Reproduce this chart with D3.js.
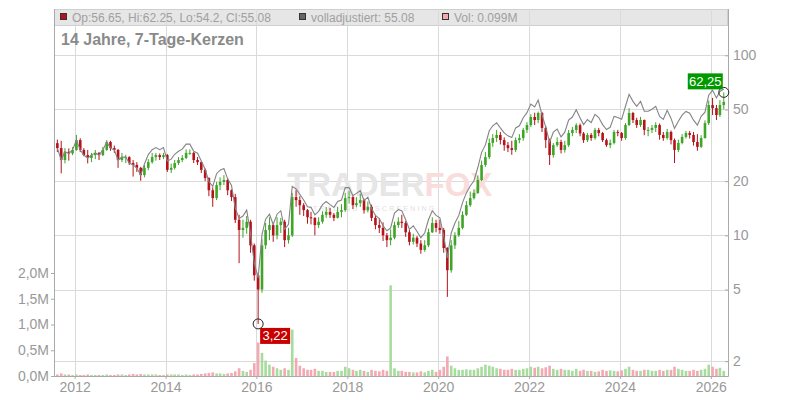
<!DOCTYPE html>
<html>
<head>
<meta charset="utf-8">
<script src="https://cdn.jsdelivr.net/npm/d3@7"></script>
<style>
  body { margin: 0; background: #fff; }
  svg { display: block; font-family: "Liberation Sans", Arial, sans-serif; }
</style>
</head>
<body>
<script>
// monthly candles, Aug 2011 .. Apr 2026 (open = previous close)
const firstOpen = 32.5;
const closes = [
  30.5, 26.2, 29.1, 28.5, 29.8,
  33.8, 29.8, 27.9, 26.9, 27.9, 28.7, 27.9, 29.8, 33.0, 30.5, 29.8, 26.2,
  27.2, 27.2, 25.2, 24.6, 23.7, 21.6, 23.7, 25.5, 27.2, 27.9, 27.2, 27.9,
  23.1, 23.7, 25.2, 26.2, 26.9, 28.7, 28.7, 26.2, 25.5, 23.1, 20.8, 17.8,
  16.1, 19.0, 19.8, 20.3, 17.8, 16.3, 12.2, 10.7, 11.0, 11.9, 8.8, 6.0,
  5.0, 8.8, 10.7, 11.4, 10.0, 11.4, 11.9, 9.4, 10.0, 16.3, 15.7, 14.7,
  13.8, 12.6, 12.5, 11.4, 11.9, 13.0, 13.5, 13.0, 12.5, 13.5, 13.8, 16.1,
  16.3, 14.7, 15.1, 15.7, 13.8, 14.4, 12.5, 11.4, 11.0, 10.0, 9.4, 9.7,
  11.4, 11.9, 11.7, 10.4, 9.2, 9.7, 9.0, 8.3, 8.8, 10.4, 11.7, 11.0,
  10.7, 8.5, 6.4, 8.8, 10.0, 11.0, 13.0, 14.7, 16.1, 17.2, 20.3, 24.6,
  27.2, 32.6, 34.7, 36.1, 33.8, 31.7, 30.5, 29.8, 33.8, 34.7, 38.5, 41.0,
  45.4, 43.7, 47.8, 39.5, 33.8, 27.9, 31.7, 33.0, 29.8, 31.7, 37.0, 38.5,
  40.9, 36.8, 33.8, 36.1, 34.7, 38.5, 37.0, 33.8, 31.7, 32.6, 37.5, 37.0,
  34.7, 41.0, 47.8, 43.7, 41.0, 43.7, 38.5, 38.5, 39.5, 41.0, 36.1, 34.7,
  37.5, 33.8, 29.8, 32.6, 35.2, 37.0, 36.1, 33.0, 31.0, 34.7, 42.0, 52.9,
  50.9, 46.6, 52.9, 55.08
];
const highs = [
  34.0, 33.5, 30.5, 30.4, 30.9,
  36.1, 34.6, 30.5, 29.8, 28.7, 29.8, 29.0, 31.0, 33.8, 33.5, 31.5, 30.2,
  28.7, 28.0, 27.5, 26.2, 25.5, 24.0, 24.6, 26.5, 28.7, 28.7, 28.5, 28.7,
  28.3, 25.0, 26.2, 27.2, 27.9, 30.0, 30.0, 29.0, 27.2, 25.8, 23.5, 21.0,
  18.5, 19.8, 21.0, 21.6, 20.8, 18.0, 17.0, 13.0, 12.2, 12.8, 12.2, 9.0,
  6.2, 9.5, 11.7, 12.6, 11.6, 12.6, 12.5, 12.2, 11.0, 17.2, 17.8, 16.5,
  15.1, 14.0, 13.5, 12.6, 12.6, 13.6, 14.4, 14.2, 13.3, 14.4, 14.9, 17.2,
  17.6, 16.5, 16.3, 17.0, 16.0, 15.4, 14.8, 13.0, 12.4, 11.8, 10.3, 10.8,
  11.9, 12.6, 13.0, 12.0, 10.7, 10.2, 9.9, 9.4, 9.4, 10.9, 12.6, 12.2,
  12.2, 11.0, 8.6, 9.4, 10.4, 12.0, 13.6, 15.5, 17.5, 18.0, 21.5, 26.0,
  29.0, 34.5, 36.5, 38.5, 37.5, 35.0, 33.0, 33.5, 35.0, 36.5, 39.5, 42.5,
  47.0, 48.0, 48.7, 48.5, 40.5, 34.5, 32.5, 35.0, 34.0, 33.5, 38.5, 40.0,
  42.0, 41.8, 37.5, 37.0, 37.0, 39.5, 39.5, 37.5, 34.5, 34.0, 38.5, 38.5,
  37.5, 42.0, 50.8, 48.5, 45.0, 45.5, 44.0, 40.0, 41.0, 42.5, 41.8, 37.5,
  39.0, 38.2, 34.5, 34.0, 36.5, 38.0, 38.0, 37.5, 36.5, 36.0, 43.5, 56.0,
  58.0, 53.0, 56.4, 62.25
];
const lows = [
  29.0, 22.1, 25.1, 26.0, 27.9,
  29.5, 29.0, 27.5, 25.1, 25.5, 26.5, 26.2, 27.5, 29.5, 29.5, 28.7, 23.7,
  25.5, 25.2, 24.6, 21.2, 22.5, 20.1, 21.0, 23.0, 25.0, 26.0, 26.2, 26.5,
  22.5, 22.2, 23.2, 24.6, 25.5, 26.5, 28.0, 25.2, 24.6, 22.2, 20.0, 16.5,
  14.4, 15.7, 17.8, 19.0, 16.7, 15.5, 11.7, 7.0, 9.7, 10.2, 8.0, 5.6,
  3.22, 4.8, 8.4, 9.4, 9.2, 9.5, 10.3, 8.6, 9.0, 9.8, 14.4, 13.0,
  12.8, 11.6, 11.5, 10.0, 11.0, 11.6, 12.5, 12.5, 12.0, 12.4, 12.6, 13.5,
  15.0, 14.0, 14.3, 14.4, 13.2, 13.4, 12.0, 10.8, 10.3, 9.3, 8.6, 8.8,
  9.5, 11.0, 11.0, 9.8, 8.8, 8.9, 8.6, 7.9, 8.1, 8.6, 10.3, 10.4,
  10.2, 8.0, 4.55, 6.2, 8.4, 9.8, 10.8, 12.8, 14.4, 15.8, 17.0, 20.0,
  24.0, 26.5, 31.0, 33.0, 32.0, 29.5, 29.0, 28.0, 29.0, 32.5, 33.5, 37.0,
  40.0, 41.0, 42.0, 37.5, 30.5, 24.6, 27.0, 31.0, 28.5, 28.8, 31.0, 35.5,
  37.0, 35.5, 32.6, 33.0, 33.5, 34.0, 35.5, 33.0, 31.0, 30.5, 32.0, 35.5,
  33.5, 34.0, 40.5, 42.0, 39.5, 40.0, 36.0, 35.5, 37.0, 37.5, 34.0, 33.5,
  34.0, 32.0, 25.2, 29.0, 32.0, 34.5, 34.5, 31.5, 29.5, 30.5, 34.5, 41.0,
  46.6, 43.7, 45.4, 50.0
];
// "volladjustiert" grey line
const adjusted = [
  30.5, 26.2, 29.1, 28.5, 29.8,
  33.8, 29.8, 27.9, 26.9, 27.9, 28.7, 27.9, 29.8, 33.0, 30.5, 29.8, 26.2,
  27.2, 27.2, 25.2, 24.6, 23.7, 21.6, 24.9, 28.1, 29.9, 30.7, 29.9, 30.7,
  25.9, 26.5, 28.2, 29.3, 30.1, 32.1, 32.1, 29.3, 28.6, 25.9, 23.3, 19.9,
  18.7, 22.0, 23.0, 23.5, 20.6, 18.9, 14.2, 12.4, 12.8, 13.8, 10.2, 7.0,
  5.8, 10.1, 12.3, 13.1, 11.5, 13.1, 13.7, 10.8, 11.5, 18.7, 18.1, 16.9,
  15.7, 14.4, 14.3, 13.0, 13.6, 14.8, 15.4, 14.8, 14.3, 15.4, 15.7, 18.4,
  18.4, 16.6, 17.1, 17.7, 15.6, 16.3, 14.1, 12.9, 12.4, 11.3, 10.6, 11.0,
  13.3, 13.9, 13.7, 12.2, 10.8, 11.3, 10.5, 9.7, 10.3, 12.2, 13.7, 12.9,
  12.5, 9.9, 7.5, 10.3, 11.7, 12.9, 15.2, 17.2, 18.8, 20.1, 23.8, 28.8,
  31.8, 38.1, 40.6, 42.2, 39.5, 37.1, 35.7, 34.9, 39.5, 40.6, 45.0, 48.0,
  53.6, 51.6, 56.4, 46.6, 39.9, 32.9, 37.4, 38.9, 35.2, 37.4, 43.7, 45.4,
  49.9, 44.9, 41.2, 44.0, 42.3, 47.0, 45.1, 41.2, 38.7, 39.8, 45.8, 45.1,
  44.1, 52.1, 60.7, 55.5, 52.1, 55.5, 48.9, 48.9, 50.2, 52.1, 45.8, 44.1,
  49.5, 44.6, 39.3, 43.0, 46.5, 48.8, 47.7, 43.6, 40.9, 45.8, 48.3, 60.0,
  64.0, 58.0, 63.0, 65.0
];
// volume in millions
const volumes = [
  0.03, 0.05, 0.03, 0.03, 0.02,
  0.03, 0.02, 0.02, 0.03, 0.02, 0.02, 0.02, 0.02, 0.03, 0.02, 0.02, 0.03,
  0.03, 0.02, 0.03, 0.04, 0.03, 0.04, 0.03, 0.03, 0.03, 0.03, 0.02, 0.02,
  0.03, 0.03, 0.03, 0.03, 0.02, 0.03, 0.02, 0.03, 0.03, 0.04, 0.05, 0.06,
  0.07, 0.05, 0.05, 0.04, 0.05, 0.06, 0.09, 0.15, 0.10, 0.08, 0.12, 0.25,
  0.65, 0.45, 0.30, 0.22, 0.18, 0.15, 0.12, 0.15, 0.12, 0.90, 0.35, 0.20,
  0.15, 0.12, 0.12, 0.14, 0.10, 0.10, 0.08, 0.08, 0.08, 0.10, 0.10, 0.18,
  0.15, 0.12, 0.10, 0.12, 0.10, 0.08, 0.12, 0.10, 0.09, 0.12, 0.10, 1.76,
  0.15, 0.10, 0.10, 0.08, 0.08, 0.07, 0.07, 0.09, 0.07, 0.10, 0.12, 0.08,
  0.12, 0.18, 0.38, 0.20, 0.15, 0.12, 0.12, 0.13, 0.12, 0.12, 0.15, 0.18,
  0.22, 0.20, 0.18, 0.15, 0.14, 0.12, 0.12, 0.14, 0.12, 0.12, 0.14, 0.15,
  0.18, 0.16, 0.18, 0.15, 0.17, 0.20, 0.14, 0.12, 0.14, 0.12, 0.12, 0.10,
  0.14, 0.10, 0.12, 0.10, 0.10, 0.08, 0.09, 0.12, 0.10, 0.11, 0.10, 0.09,
  0.11, 0.14, 0.18, 0.12, 0.10, 0.10, 0.12, 0.12, 0.10, 0.10, 0.12, 0.10,
  0.12, 0.12, 0.18, 0.14, 0.12, 0.10, 0.10, 0.12, 0.10, 0.12, 0.14, 0.22,
  0.18, 0.14, 0.16, 0.099
];
const priceTicks = [2, 5, 10, 20, 50, 100];
const volumeTicks = [0, 0.5, 1, 1.5, 2];
const yearTicks = [2012, 2014, 2016, 2018, 2020, 2022, 2024, 2026];
const legendItems = ["Op:56.65, Hi:62.25, Lo:54.2, Cl:55.08", "volladjustiert: 55.08", "Vol: 0.099M"];
const titleText = "14 Jahre, 7-Tage-Kerzen";

let width = 800, height = 400;
let plot = {left: 54, right: 728, top: 9, bottom: 376};
let red = "#b5121b", green = "#3ea528";

let months = d3.timeMonth.range(new Date(2011, 7, 1), new Date(2026, 4, 1));
let data = months.map((m, i) => ({
  date: new Date(m.getFullYear(), m.getMonth(), 15),
  open: i ? closes[i - 1] : firstOpen,
  high: highs[i], low: lows[i], close: closes[i],
  adj: adjusted[i], vol: volumes[i]
}));

let svg = d3.select("body").append("svg")
  .attr("width", width)
  .attr("height", height);

let x = d3.scaleTime()
  .domain([new Date(2011, 6, 19), new Date(2026, 4, 19)])
  .range([plot.left, plot.right]);
let y = d3.scaleLog()
  .domain([1.654, 180.8])
  .range([plot.bottom, plot.top]);
let yVol = d3.scaleLinear()
  .domain([0, 2])
  .range([plot.bottom, 273]);

// legend bar
svg.append("rect")
  .attr("x", plot.left + 0.5).attr("y", plot.top + 0.5)
  .attr("width", plot.right - plot.left - 1).attr("height", 16)
  .attr("fill", "#e6e6e6").attr("stroke", "#cfcfcf");

// grid
svg.append("g").selectAll("line")
  .data(yearTicks)
  .enter().append("line")
  .attr("x1", d => Math.round(x(new Date(d, 0, 1))) + 0.5)
  .attr("x2", d => Math.round(x(new Date(d, 0, 1))) + 0.5)
  .attr("y1", plot.top).attr("y2", plot.bottom)
  .attr("stroke", "#dadada");
svg.append("g").selectAll("line")
  .data(priceTicks)
  .enter().append("line")
  .attr("x1", plot.left).attr("x2", plot.right)
  .attr("y1", d => Math.round(y(d)) + 0.5)
  .attr("y2", d => Math.round(y(d)) + 0.5)
  .attr("stroke", "#dadada");

// watermark
let wm = svg.append("text")
  .attr("x", 287).attr("y", 196)
  .style("font-size", "33px").style("font-weight", "bold");
wm.append("tspan").attr("fill", "#e6e6e6").text("TRADER");
wm.append("tspan").attr("fill", "#f9dcdc").text("FOX");
svg.append("text")
  .attr("x", 313).attr("y", 211)
  .style("font-size", "7px").style("letter-spacing", "2.2px")
  .attr("fill", "#e0e0e0")
  .text("TRADING & SCREENING");

let barW = 2.6;

// volume
svg.append("g").selectAll("rect")
  .data(data)
  .enter().append("rect")
  .attr("x", d => x(d.date) - barW / 2)
  .attr("y", d => yVol(d.vol))
  .attr("width", barW)
  .attr("height", d => plot.bottom - yVol(d.vol))
  .attr("fill", d => d.close >= d.open ? "#a8dc9e" : "#f3a8b2");

// candles
let candle = svg.append("g").selectAll("g")
  .data(data)
  .enter().append("g");
candle.append("line")
  .attr("x1", d => x(d.date)).attr("x2", d => x(d.date))
  .attr("y1", d => y(d.high)).attr("y2", d => y(d.low))
  .attr("stroke", d => d.close >= d.open ? green : red);
candle.append("rect")
  .attr("x", d => x(d.date) - barW / 2)
  .attr("y", d => y(Math.max(d.open, d.close)))
  .attr("width", barW)
  .attr("height", d => Math.max(1, Math.abs(y(d.open) - y(d.close))))
  .attr("fill", d => d.close >= d.open ? green : red);

// adjusted line
svg.append("path")
  .datum(data)
  .attr("fill", "none")
  .attr("stroke", "#848484")
  .attr("stroke-width", 1.1)
  .attr("d", d3.line().x(d => x(d.date)).y(d => y(d.adj)));

// axes
let axisColor = "#aaa", labelColor = "#999";
function styleAxis(g) {
  g.selectAll("line").attr("stroke", axisColor);
  g.selectAll("path").remove();
  g.selectAll("text").attr("fill", labelColor).style("font-size", "14px")
    .style("font-family", "'Liberation Sans', Arial, sans-serif");
}
svg.append("g")
  .attr("transform", "translate(" + plot.right + ",0)")
  .call(d3.axisRight(y).tickValues(priceTicks).tickSizeInner(-3).tickSizeOuter(0).tickPadding(5)
    .tickFormat(d3.format("d")))
  .call(styleAxis);
svg.append("g")
  .attr("transform", "translate(" + plot.left + ",0)")
  .call(d3.axisLeft(yVol).tickValues(volumeTicks).tickSize(3).tickPadding(2)
    .tickFormat(d => d3.format(".1f")(d).replace(".", ",") + "M"))
  .call(styleAxis);
svg.append("g")
  .attr("transform", "translate(0," + plot.bottom + ")")
  .call(d3.axisBottom(x).tickValues(yearTicks.map(d => new Date(d, 0, 1))).tickSize(3).tickPadding(3)
    .tickFormat(d3.timeFormat("%Y")))
  .call(styleAxis);

[plot.left, plot.right].forEach(px => {
  svg.append("line")
    .attr("x1", px + 0.5).attr("x2", px + 0.5)
    .attr("y1", plot.top).attr("y2", plot.bottom + 0.5)
    .attr("stroke", axisColor);
});
svg.append("line")
  .attr("x1", plot.left).attr("x2", plot.right + 0.5)
  .attr("y1", plot.bottom + 0.5).attr("y2", plot.bottom + 0.5)
  .attr("stroke", axisColor);

// legend
let legendX = [60, 299, 442];
let legendFill = [red, "#666", "#f3a8b2"];
legendItems.forEach((t, i) => {
  svg.append("rect")
    .attr("x", legendX[i] + 0.5).attr("y", 13.5)
    .attr("width", 6).attr("height", 6)
    .attr("fill", legendFill[i]).attr("stroke", "#333");
  svg.append("text")
    .attr("x", legendX[i] + 12).attr("y", 22)
    .attr("fill", "#a0a0a0")
    .style("font-size", "12px")
    .text(t);
});

svg.append("text")
  .attr("x", 61).attr("y", 45)
  .attr("fill", "#8a8a8a")
  .style("font-size", "16px").style("font-weight", "bold")
  .text(titleText);

// min / max markers
let lowest = data[d3.minIndex(data, d => d.low)];
let highest = data[d3.maxIndex(data, d => d.high)];
let fmt = v => d3.format(".2f")(v).replace(".", ",");

function marker(d, value, color, dx, dy, w) {
  let cx = x(d.date), cy = y(value);
  svg.append("circle")
    .attr("cx", cx).attr("cy", cy).attr("r", 5)
    .attr("fill", "none").attr("stroke", "#222");
  svg.append("rect")
    .attr("x", cx + dx).attr("y", cy + dy)
    .attr("width", w).attr("height", 16)
    .attr("fill", color);
  svg.append("text")
    .attr("x", cx + dx + w / 2).attr("y", cy + dy + 12.5)
    .attr("text-anchor", "middle")
    .attr("fill", "#fff")
    .style("font-size", "13px")
    .text(fmt(value));
}
marker(lowest, lowest.low, "#c80000", 2, 4, 30);
marker(highest, highest.high, "#009a00", -36, -19, 35);
</script>
</body>
</html>
